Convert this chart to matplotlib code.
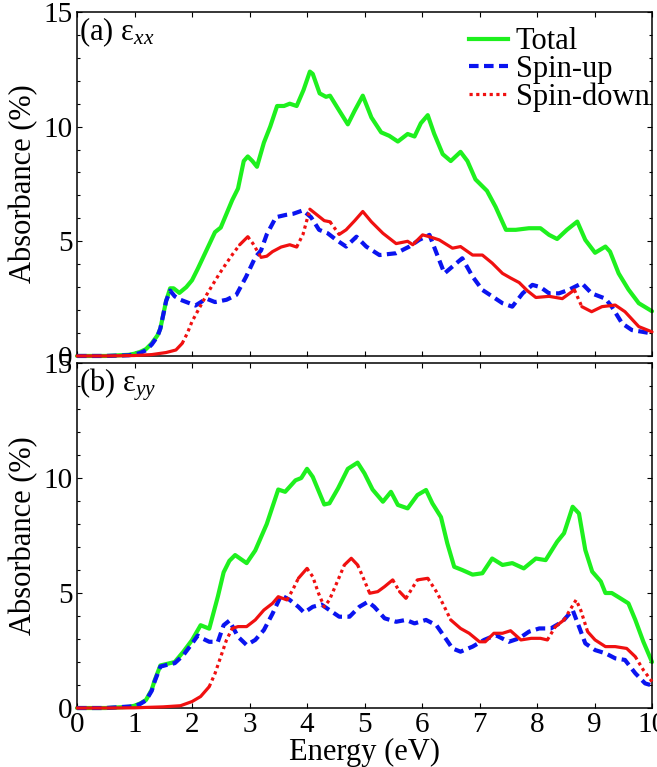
import numpy as np
import matplotlib
matplotlib.use("Agg")
import matplotlib.pyplot as plt
from matplotlib.lines import Line2D

plt.rcParams['font.family'] = ['Liberation Serif', 'DejaVu Serif']
plt.rcParams['mathtext.fontset'] = 'custom'
plt.rcParams['mathtext.rm'] = 'Liberation Serif'
plt.rcParams['mathtext.it'] = 'Liberation Serif:italic'

GREEN = '#1ef01e'
BLUE = '#0a14f0'
RED = '#f01010'

# ---- panel (a) eps_xx ----
xa_total = [0, 0.5, 0.9, 1.0, 1.1, 1.2, 1.3, 1.4, 1.45, 1.5, 1.55, 1.62, 1.68, 1.78, 1.9, 2.0,
            2.1, 2.25, 2.4, 2.5, 2.6, 2.7, 2.8, 2.9, 2.97, 3.05, 3.13, 3.25, 3.36, 3.48, 3.6,
            3.7, 3.82, 3.94, 4.05, 4.1, 4.22, 4.33, 4.4, 4.56, 4.71, 4.83, 4.97, 5.12, 5.29,
            5.43, 5.58, 5.75, 5.87, 5.98, 6.1, 6.21, 6.36, 6.5, 6.67, 6.79, 6.93, 7.13, 7.28,
            7.46, 7.63, 7.86, 8.06, 8.21, 8.35, 8.52, 8.7, 8.84, 9.01, 9.19, 9.27, 9.42, 9.59,
            9.77, 10.0]
ya_total = [0, 0, 0.05, 0.1, 0.18, 0.3, 0.55, 0.9, 1.2, 1.8, 2.4, 2.95, 2.95, 2.75, 3.0, 3.3,
            3.8, 4.6, 5.4, 5.6, 6.2, 6.8, 7.3, 8.5, 8.7, 8.5, 8.25, 9.3, 10.0, 10.9, 10.9,
            11.0, 10.9, 11.6, 12.4, 12.3, 11.45, 11.3, 11.35, 10.7, 10.1, 10.7, 11.35, 10.4, 9.75,
            9.6, 9.35, 9.68, 9.57, 10.15, 10.5, 9.7, 8.8, 8.5, 8.9, 8.5, 7.7, 7.2, 6.5,
            5.5, 5.5, 5.57, 5.57, 5.28, 5.1, 5.5, 5.86, 5.06, 4.5, 4.77, 4.55, 3.6, 2.9,
            2.3, 1.95]

xa_up = [0, 0.5, 0.9, 1.0, 1.1, 1.2, 1.3, 1.4, 1.45, 1.5, 1.55, 1.62, 1.7, 1.8, 2.06, 2.25,
         2.4, 2.6, 2.77, 2.94, 3.1, 3.2, 3.3, 3.46, 3.63, 3.76, 3.93, 4.07, 4.21, 4.36, 4.51,
         4.68, 4.86, 5.03, 5.26, 5.55, 5.78, 5.95, 6.13, 6.25, 6.39, 6.53, 6.7, 6.88, 7.05,
         7.22, 7.4, 7.57, 7.75, 7.92, 8.06, 8.21, 8.38, 8.55, 8.78, 8.95, 9.19, 9.3, 9.48,
         9.65, 9.82, 10.0]
ya_up = [0, 0, 0.03, 0.07, 0.13, 0.25, 0.5, 0.85, 1.2, 1.8, 2.4, 2.85, 2.6, 2.45, 2.2, 2.5,
         2.35, 2.45, 2.66, 3.45, 4.3, 4.6, 5.3, 6.05, 6.15, 6.2, 6.35, 6.05, 5.5, 5.35, 5.06,
         4.77, 5.2, 4.77, 4.4, 4.48, 4.77, 5.06, 5.28, 4.5, 3.6, 3.9, 4.26, 3.46, 2.88,
         2.6, 2.3, 2.15, 2.73, 3.1, 3.0, 2.73, 2.73, 2.88, 3.17, 2.73, 2.5, 2.15, 1.42,
         1.13, 1.06, 0.98]

xa_down = [0, 0.5, 1.0, 1.3, 1.55, 1.72, 1.83, 1.92, 2.0, 2.13, 2.25, 2.37, 2.48, 2.6, 2.71,
           2.83, 2.97, 3.06, 3.2, 3.3, 3.4, 3.55, 3.7, 3.82, 3.93, 4.05, 4.15, 4.3, 4.4, 4.56,
           4.68, 4.83, 4.97, 5.12, 5.32, 5.55, 5.75, 5.84, 6.01, 6.13, 6.3, 6.53, 6.67, 6.88,
           7.05, 7.22, 7.4, 7.54, 7.69, 7.83, 7.98, 8.21, 8.44, 8.65, 8.78, 8.95, 9.13, 9.36,
           9.53, 9.77, 10.0]
ya_down = [0, 0, 0.02, 0.06, 0.15, 0.26, 0.55, 1.0, 1.5, 2.1, 2.65, 3.15, 3.6, 4.05, 4.45,
           4.85, 5.2, 4.9, 4.3, 4.35, 4.55, 4.75, 4.85, 4.75, 5.3, 6.4, 6.2, 5.9, 5.85, 5.3,
           5.5, 5.9, 6.3, 5.85, 5.35, 4.9, 5.0, 4.85, 5.28, 5.2, 5.06, 4.7, 4.77, 4.4,
           4.4, 4.05, 3.6, 3.4, 3.2, 2.85, 2.55, 2.6, 2.5, 2.88, 2.15, 1.93, 2.15, 2.22,
           1.93, 1.28, 1.05]

# ---- panel (b) eps_yy ----
xb_total = [0, 0.5, 0.9, 1.0, 1.1, 1.2, 1.3, 1.35, 1.45, 1.6, 1.7, 1.85, 2.0, 2.15, 2.3, 2.45,
            2.55, 2.65, 2.75, 2.95, 3.1, 3.3, 3.5, 3.62, 3.8, 3.9, 4.0, 4.1, 4.3, 4.39, 4.54,
            4.71, 4.88, 5.0, 5.14, 5.32, 5.46, 5.58, 5.75, 5.92, 6.07, 6.18, 6.33, 6.44, 6.56,
            6.7, 6.88, 7.05, 7.22, 7.4, 7.57, 7.77, 7.98, 8.15, 8.35, 8.47, 8.62, 8.73, 8.84,
            8.96, 9.11, 9.19, 9.3, 9.45, 9.59, 9.71, 9.85, 10.0]
yb_total = [0, 0, 0.05, 0.1, 0.2, 0.35, 0.8, 1.2, 1.85, 1.94, 2.0, 2.45, 2.95, 3.6, 3.45, 4.85,
            5.9, 6.4, 6.65, 6.3, 6.85, 8.0, 9.5, 9.4, 9.9, 10.0, 10.4, 10.05, 8.85, 8.9, 9.55,
            10.4, 10.67, 10.2, 9.5, 8.97, 9.4, 8.83, 8.68, 9.26, 9.48, 8.9, 8.3, 7.16, 6.14,
            6.0, 5.8, 5.86, 6.5, 6.22, 6.3, 6.07, 6.5, 6.43, 7.23, 7.6, 8.75, 8.46, 6.87,
            5.93, 5.5, 5.0, 5.0, 4.77, 4.55, 3.83, 2.88, 2.0]

xb_up = [0, 0.5, 1.0, 1.1, 1.2, 1.3, 1.35, 1.45, 1.6, 1.7, 1.85, 2.0, 2.1, 2.2, 2.3, 2.45,
         2.55, 2.65, 2.8, 2.95, 3.1, 3.25, 3.4, 3.55, 3.7, 3.85, 3.95, 4.1, 4.25, 4.39, 4.56,
         4.74, 4.91, 5.06, 5.17, 5.35, 5.55, 5.72, 5.87, 6.07, 6.25, 6.39, 6.53, 6.67, 6.88,
         7.08, 7.28, 7.51, 7.69, 7.86, 8.04, 8.24, 8.44, 8.62, 8.73, 8.84, 9.01, 9.19, 9.36,
         9.53, 9.71, 9.88, 10.0]
yb_up = [0, 0, 0.08, 0.18, 0.33, 0.75, 1.15, 1.8, 1.9, 1.95, 2.3, 2.8, 3.15, 3.0, 2.88, 2.88,
         3.6, 3.8, 3.1, 2.74, 2.96, 3.39, 4.1, 4.9, 4.7, 4.4, 4.15, 4.4, 4.5, 4.26, 3.97,
         3.97, 4.4, 4.62, 4.4, 3.9, 3.75, 3.83, 3.68, 3.83, 3.6, 3.1, 2.59, 2.45, 2.67,
         2.96, 3.17, 2.88, 3.03, 3.32, 3.46, 3.46, 3.75, 4.26, 3.54, 2.81, 2.52, 2.38, 2.16,
         2.09, 1.51, 1.07, 0.98]

xb_down = [0, 0.5, 1.0, 1.5, 1.8, 2.0, 2.15, 2.3, 2.4, 2.5, 2.6, 2.7, 2.8, 2.95, 3.1, 3.25,
           3.4, 3.5, 3.65, 3.75, 3.85, 4.0, 4.1, 4.2, 4.3, 4.39, 4.54, 4.65, 4.77, 4.88, 4.97,
           5.09, 5.23, 5.35, 5.49, 5.61, 5.72, 5.92, 6.1, 6.25, 6.36, 6.5, 6.67, 6.82, 7.0,
           7.1, 7.25, 7.4, 7.54, 7.72, 7.9, 8.06, 8.18, 8.32, 8.47, 8.59, 8.68, 8.76, 8.88,
           9.01, 9.19, 9.36, 9.56, 9.71, 9.85, 10.0]
yb_down = [0, 0, 0.01, 0.05, 0.1, 0.28, 0.5, 0.93, 1.5, 2.23, 2.96, 3.46, 3.54, 3.54, 3.83, 4.26,
           4.55, 4.84, 4.7, 5.13, 5.64, 6.07, 5.71, 4.99, 4.4, 4.7, 5.57, 6.22, 6.51, 6.22, 5.71,
           4.99, 5.06, 5.28, 5.57, 5.06, 4.77, 5.57, 5.64, 5.06, 4.55, 3.83, 3.46, 3.25, 2.88,
           2.88, 3.25, 3.25, 3.36, 2.96, 3.03, 3.03, 2.96, 3.54, 3.83, 4.33, 4.7, 4.26, 3.32,
           2.96, 2.67, 2.67, 2.59, 2.23, 1.65, 1.15]

panel_labels = [r'(a) ε$_{xx}$', r'(b) ε$_{yy}$']
legend_labels = ['Total', 'Spin-up', 'Spin-down']
xticks = list(range(0, 11))
yticks = [0, 5, 10, 15]

DOT = (0, (1, 1.1))
DASH = (0, (2.3, 1.3))


def draw_spin_down(ax, x, y):
    # the original dotted line looks solid where it is flat and dotted where it is steep
    x = np.asarray(x, float)
    y = np.asarray(y, float)
    pts = ax.transData.transform(np.column_stack([x, y]))
    dx = np.diff(pts[:, 0])
    dy = np.diff(pts[:, 1])
    steep = np.abs(dy) > 1.3 * np.abs(dx)
    start = 0
    n = len(steep)
    for i in range(1, n + 1):
        if i == n or steep[i] != steep[start]:
            sl = slice(start, i + 1)
            ax.plot(x[sl], y[sl], color=RED, lw=2.3, ls=DOT if steep[start] else '-',
                    solid_capstyle='round', clip_on=False, zorder=4)
            start = i


fig = plt.figure(figsize=(6.57, 7.67), dpi=100)
ax_a = fig.add_axes([0.1172, 0.5359, 0.8752, 0.4485])
ax_b = fig.add_axes([0.1172, 0.0769, 0.8752, 0.4498])

data = [
    (ax_a, xa_total, ya_total, xa_up, ya_up, xa_down, ya_down),
    (ax_b, xb_total, yb_total, xb_up, yb_up, xb_down, yb_down),
]

for k, (ax, xt, yt, xu, yu, xd, yd) in enumerate(data):
    ax.set_xlim(0, 10)
    ax.set_ylim(0, 15)
    ax.plot(xt, yt, color=GREEN, lw=3.0, solid_capstyle='round', clip_on=False, zorder=2)
    ax.plot(xu, yu, color=BLUE, lw=3.0, ls=DASH, clip_on=False, zorder=3)
    draw_spin_down(ax, xd, yd)

    ax.set_xticks(xticks)
    ax.set_yticks(yticks)
    ax.set_yticks(np.arange(0, 16, 1), minor=True)
    ax.tick_params(which='both', direction='in', top=True, right=True, width=0.8,
                   labelsize=21, pad=3)
    ax.tick_params(which='major', length=3.5)
    ax.tick_params(which='minor', length=2.2)
    for sp in ax.spines.values():
        sp.set_linewidth(1.1)
    ax.set_ylabel('Absorbance (%)', fontsize=22, labelpad=4)
    ax.text(0.004, 0.99, panel_labels[k], transform=ax.transAxes, fontsize=22,
            ha='left', va='top')

ax_a.tick_params(labelbottom=False)
ax_b.set_xlabel('Energy (eV)', fontsize=22, labelpad=0)

handles = [
    Line2D([], [], color=GREEN, lw=3.0),
    Line2D([], [], color=BLUE, lw=3.0, ls=DASH),
    Line2D([], [], color=RED, lw=2.3, ls=DOT),
]
ax_a.legend(handles, legend_labels, loc='upper right', bbox_to_anchor=(0.996, 0.955),
            frameon=False, fontsize=22, handlelength=1.3, handletextpad=0.25,
            labelspacing=-0.05, borderaxespad=0, borderpad=0)

fig.savefig('out.png', dpi=100)
